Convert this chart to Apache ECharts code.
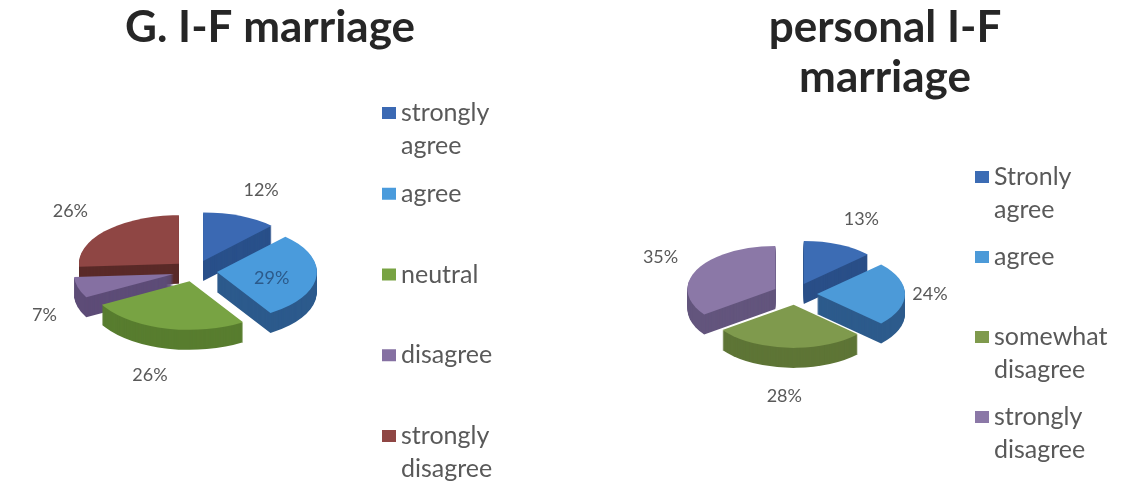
<!DOCTYPE html>
<html>
<head>
<meta charset="utf-8">
<script src="https://cdn.jsdelivr.net/npm/echarts@6/dist/echarts.min.js"></script>
<style>
html,body{margin:0;padding:0;background:#fff;}
#main{width:1141px;height:481px;}
</style>
</head>
<body>
<div id="main"></div>
<script>
// ---- data ----
const gTitle = 'G. I-F marriage';
const gCategories = ['strongly agree', 'agree', 'neutral', 'disagree', 'strongly disagree'];
const gLegendLabels = ['strongly\nagree', 'agree', 'neutral', 'disagree', 'strongly\ndisagree'];
const gValues = [12, 29, 26, 7, 26];

const pTitle = 'personal I-F\nmarriage';
const pCategories = ['Stronly agree', 'agree', 'somewhat disagree', 'strongly disagree'];
const pLegendLabels = ['Stronly\nagree', 'agree', 'somewhat\ndisagree', 'strongly\ndisagree'];
const pValues = [13, 24, 28, 35];

// ---- styles ----
const FONT = 'Lato, "Open Sans", sans-serif';
const TEXT_COLOR = '#595959';
const gStyle = {
  key: 'G', cx: 195, cy: 271, rx: 100, k: 0.485, explode: 22, depth: 20,
  la: 25, lb: 35, lyb: 28, inR: 0.55,
  top: ['#3b69b3', '#4a9bdc', '#78a343', '#8570a2', '#8f4644'],
  side: ['#29508a', '#2c5a8c', '#587d2f', '#5d4c77', '#5a2a28'],
  inside: [false, true, false, false, false],
  insideColor: '#2c5a8a',
  legendLeft: 382, legendTop0: 113, legendGap: 80.75
};
const pStyle = {
  key: 'P', cx: 795, cy: 294, rx: 88, k: 0.49, explode: 22, depth: 20,
  la: 25, lb: 35, lyb: 28, inR: 0.55,
  top: ['#3c6cb4', '#4c9ad8', '#7f9a4d', '#8b78a7'],
  side: ['#2a4f88', '#2d5b8c', '#5e7536', '#63557d'],
  inside: [false, false, false, false],
  insideColor: '#2c5a8a',
  legendLeft: 975, legendTop0: 177, legendGap: 80
};

const LEG_FONT = 25, LEG_LH = 33;

function renderSlice(api, cfg, i) {
  const v = api.value(0), s = api.value(1), t = api.value(2);
  const a0 = s / t * 2 * Math.PI, a1 = (s + v) / t * 2 * Math.PI;
  const mid = (a0 + a1) / 2;
  const sn = Math.sin(mid), cs = Math.cos(mid);
  const ox = cfg.cx + cfg.explode * sn;
  const oy = cfg.cy - cfg.explode * cfg.k * cs;
  const order = Math.round(-cs * 100) + 200;
  const shape = { cx: 0, cy: 0, r0: 0, r: cfg.rx, startAngle: a0 - Math.PI / 2, endAngle: a1 - Math.PI / 2, clockwise: true };
  const children = [];
  for (let j = cfg.depth; j >= 1; j--) {
    children.push({ type: 'sector', x: ox, y: oy + j, scaleY: cfg.k, shape: shape, style: { fill: cfg.side[i] }, z2: order * 2, silent: true });
  }
  children.push({ type: 'sector', x: ox, y: oy, scaleY: cfg.k, shape: shape, style: { fill: cfg.top[i] }, z2: order * 2 + 1, silent: true });
  let lx, ly;
  const inside = cfg.inside[i];
  if (inside) {
    lx = ox + cfg.rx * cfg.inR * sn;
    ly = oy - cfg.rx * cfg.inR * cfg.k * cs + 4;
  } else {
    lx = ox + (cfg.rx + cfg.la + cfg.lb * Math.abs(cs)) * sn;
    ly = oy - (cfg.rx * cfg.k + cfg.lyb) * cs + (cs < 0 ? cfg.depth : 0);
  }
  children.push({ type: 'text', x: lx, y: ly, z2: 2000, silent: true,
    style: { text: Math.round(v / t * 100) + '%', fill: inside ? cfg.insideColor : TEXT_COLOR, font: '18px ' + FONT, align: 'center', verticalAlign: 'middle' } });
  return { type: 'group', children: children };
}

const series = [];
const legends = [];
function addPie(cats, labels, vals, cfg) {
  const total = vals.reduce((a, b) => a + b, 0);
  let cum = 0;
  cats.forEach((name, i) => {
    const sName = cfg.key + ': ' + name;
    series.push({
      type: 'custom', name: sName, coordinateSystem: 'none',
      itemStyle: { color: cfg.top[i] },
      data: [[vals[i], cum, total]],
      renderItem: (params, api) => renderSlice(api, cfg, i)
    });
    cum += vals[i];
    const lines = labels[i].split('\n').length;
    const yc = cfg.legendTop0 + i * cfg.legendGap;
    // a leading empty line keeps the square level with the first text line
    const shown = '\n'.repeat(lines - 1) + labels[i];
    legends.push({
      data: [sName], left: cfg.legendLeft, top: yc - LEG_LH / 2 - (lines - 1) * LEG_LH,
      orient: 'vertical', padding: 0, icon: 'rect', itemWidth: 14, itemHeight: 12, itemGap: 0,
      selectedMode: false,
      formatter: () => shown,
      textStyle: { fontFamily: FONT, fontSize: LEG_FONT, lineHeight: LEG_LH, color: TEXT_COLOR }
    });
  });
}
addPie(gCategories, gLegendLabels, gValues, gStyle);
addPie(pCategories, pLegendLabels, pValues, pStyle);

const chart = echarts.init(document.getElementById('main'), null, { renderer: 'canvas' });
chart.setOption({
  backgroundColor: '#ffffff',
  animation: false,
  title: [
    { text: gTitle, left: 270, top: 3, textAlign: 'center', padding: 0,
      textStyle: { fontFamily: FONT, fontWeight: 'bold', fontSize: 44, lineHeight: 50, color: '#262626' } },
    { text: pTitle, left: 885, top: 3, textAlign: 'center', padding: 0,
      textStyle: { fontFamily: FONT, fontWeight: 'bold', fontSize: 44, lineHeight: 50, color: '#262626' } }
  ],
  legend: legends,
  series: series
});
</script>
</body>
</html>
